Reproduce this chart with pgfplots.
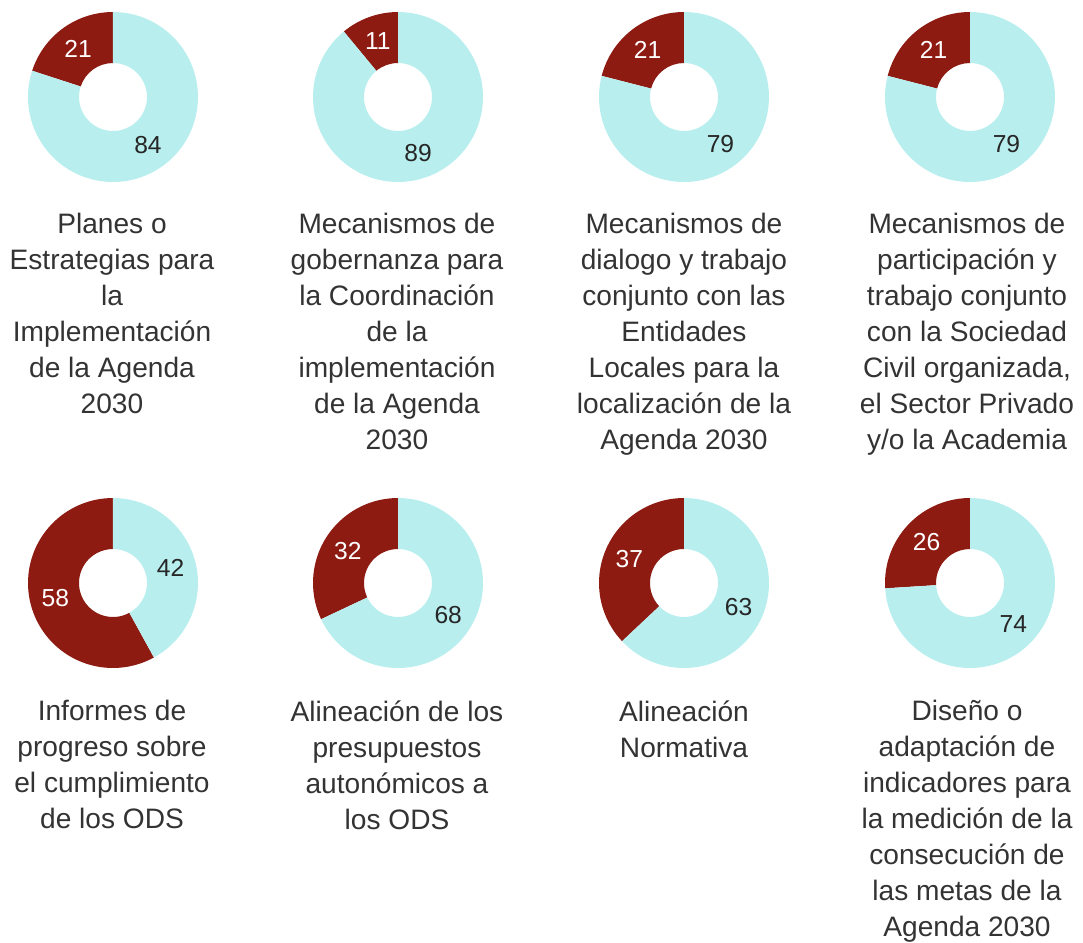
\documentclass[border=0pt]{standalone}
\usepackage{pgfplots}
\pgfplotsset{compat=1.18}
\usepackage{pgfplotstable}
\usepackage{fontspec}
\setmainfont{Liberation Sans}

\definecolor{ringred}{HTML}{8E1B12}
\definecolor{ringcyan}{HTML}{B9EEEE}
\definecolor{txt}{HTML}{333333}

% centre (px), then the red and the cyan share
\pgfplotstableread{
cx  cy  dark light
113 97  21 84
398 97  11 89
684 97  21 79
970 97  21 79
113 583 58 42
398 583 32 68
684 583 37 63
970 583 26 74
}\donuts

\newcommand\donut[1]{%
  \pgfplotstablegetelem{#1}{cx}\of\donuts \let\cx\pgfplotsretval
  \pgfplotstablegetelem{#1}{cy}\of\donuts \let\cy\pgfplotsretval
  \pgfplotstablegetelem{#1}{dark}\of\donuts \let\vd\pgfplotsretval
  \pgfplotstablegetelem{#1}{light}\of\donuts \let\vl\pgfplotsretval
  \pgfmathsetmacro\ad{90+360*(\vd/(\vd+\vl))}% red runs from 90 to \ad
  \pgfmathsetmacro\md{(90+\ad)/2}
  \pgfmathsetmacro\ml{(\ad+450)/2}
  \begin{axis}[at={({\cx*0.02cm},{-\cy*0.02cm})}, anchor=center, hide axis,
      x=0.02cm, y=0.02cm, xmin=-90, xmax=90, ymin=-90, ymax=90, clip=false]
    \fill[ringred] (axis cs:0,0) ++(90:1.7cm) arc[start angle=90, end angle=\ad, radius=1.7cm]
      -- ++(\ad:-1.02cm) arc[start angle=\ad, end angle=90, radius=0.68cm] -- cycle;
    \fill[ringcyan] (axis cs:0,0) ++(\ad:1.7cm) arc[start angle=\ad, end angle=450, radius=1.7cm]
      -- ++(90:-1.02cm) arc[start angle=450, end angle=\ad, radius=0.68cm] -- cycle;
    \path (axis cs:0,0) ++(\md:1.19cm) node[text=white, font=\fontsize{14}{16}\selectfont] {\vd};
    \path (axis cs:0,0) ++(\ml:1.19cm) node[text=black!85, font=\fontsize{14}{16}\selectfont] {\vl};
  \end{axis}}

\begin{document}
\begin{tikzpicture}
\begin{scope}[x=0.02cm, y=-0.02cm]
\useasboundingbox (0,0) rectangle (1083,937);
\end{scope}

\donut{0}\donut{1}\donut{2}\donut{3}
\donut{4}\donut{5}\donut{6}\donut{7}

\begin{scope}[x=0.02cm, y=-0.02cm,
  lbl/.style={anchor=north, align=center, inner sep=0pt, text=txt,
    font=\fontsize{16}{20.5}\selectfont}]
\node[lbl] at (112,213) {Planes o\\Estrategias para\\la\\Implementación\\de la Agenda\\2030};
\node[lbl] at (397,213) {Mecanismos de\\gobernanza para\\la Coordinación\\de la\\implementación\\de la Agenda\\2030};
\node[lbl] at (684,213) {Mecanismos de\\dialogo y trabajo\\conjunto con las\\Entidades\\Locales para la\\localización de la\\Agenda 2030};
\node[lbl] at (967,213) {Mecanismos de\\participación y\\trabajo conjunto\\con la Sociedad\\Civil organizada,\\el Sector Privado\\y/o la Academia};
\node[lbl] at (112,700) {Informes de\\progreso sobre\\el cumplimiento\\de los ODS};
\node[lbl] at (397,700) {Alineación de los\\presupuestos\\autonómicos a\\los ODS};
\node[lbl] at (684,700) {Alineación\\Normativa};
\node[lbl] at (967,700) {Diseño o\\adaptación de\\indicadores para\\la medición de la\\consecución de\\las metas de la\\Agenda 2030};
\end{scope}
\end{tikzpicture}
\end{document}
